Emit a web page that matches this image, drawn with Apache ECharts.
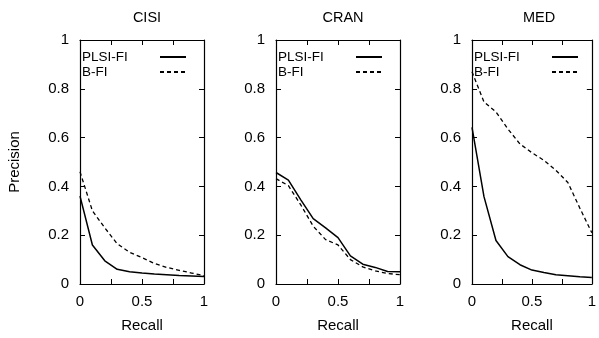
<!DOCTYPE html>
<html><head><meta charset="utf-8">
<script src="https://cdn.jsdelivr.net/npm/echarts@6/dist/echarts.min.js"></script>
<style>html,body{margin:0;padding:0;background:#fff}#c{width:599px;height:338px}</style>
</head><body><div id="c"></div>
<script>
var recall = [0, 0.1, 0.2, 0.3, 0.4, 0.5, 0.6, 0.7, 0.8, 0.9, 1.0];
var panelTitles = ['CISI', 'CRAN', 'MED'];
var seriesNames = ['PLSI-FI', 'B-FI'];
var cisiPlsi = [0.36, 0.16, 0.095, 0.06, 0.05, 0.045, 0.041, 0.038, 0.035, 0.033, 0.031];
var cisiBfi  = [0.46, 0.30, 0.23, 0.165, 0.13, 0.108, 0.084, 0.068, 0.056, 0.045, 0.034];
var cranPlsi = [0.457, 0.426, 0.345, 0.268, 0.23, 0.19, 0.115, 0.081, 0.068, 0.051, 0.05];
var cranBfi  = [0.432, 0.403, 0.324, 0.237, 0.182, 0.16, 0.10, 0.07, 0.054, 0.043, 0.038];
var medPlsi  = [0.642, 0.358, 0.178, 0.112, 0.079, 0.057, 0.047, 0.038, 0.034, 0.03, 0.027];
var medBfi   = [0.87, 0.746, 0.705, 0.635, 0.574, 0.538, 0.507, 0.466, 0.416, 0.311, 0.21];
var xTicks = [0, 0.5, 1];
var yTicks = [0, 0.2, 0.4, 0.6, 0.8, 1];

var panels = [[cisiPlsi, cisiBfi], [cranPlsi, cranBfi], [medPlsi, medBfi]];
var lefts = [80, 276, 472];
var W = 124, TOP = 40, H = 247;
var font = 'Liberation Sans, Arial, Helvetica, sans-serif';

function pairs(ys){ return recall.map(function(x,i){ return [x, ys[i]]; }); }

var grid = [], xAxis = [], yAxis = [], series = [], title = [], legend = [];
panels.forEach(function(p, g){
  grid.push({left: lefts[g], top: TOP, width: W, height: H, containLabel: false});
  title.push({text: panelTitles[g], left: lefts[g] + W/2, top: 5, textAlign: 'center',
    textStyle: {fontFamily: font, fontSize: 14.5, fontWeight: 'normal', color: '#000'}});
  var axLine = {show: true, onZero: false, lineStyle: {color: '#000', width: 1.2}};
  var tick = {show: true, inside: true, length: 5, lineStyle: {color: '#000', width: 1}};
  xAxis.push({type: 'value', gridIndex: g, min: 0, max: 1, interval: 0.25, position: 'bottom',
    axisLine: axLine, axisTick: tick, splitLine: {show: false},
    name: 'Recall', nameLocation: 'middle', nameGap: 34,
    nameTextStyle: {fontFamily: font, fontSize: 15, color: '#000'},
    axisLabel: {margin: 10, fontFamily: font, fontSize: 15, color: '#000',
      formatter: function(v){ return xTicks.indexOf(v) >= 0 ? String(v) : ''; }}});
  xAxis.push({type: 'value', gridIndex: g, min: 0, max: 1, interval: 0.25, position: 'top',
    axisLine: axLine, axisTick: tick, splitLine: {show: false}, axisLabel: {show: false}});
  yAxis.push({type: 'value', gridIndex: g, min: 0, max: 1, interval: 0.2, position: 'left',
    axisLine: axLine, axisTick: tick, splitLine: {show: false},
    name: g === 0 ? 'Precision' : '', nameLocation: 'middle', nameGap: 58, nameRotate: 90,
    nameTextStyle: {fontFamily: font, fontSize: 15, color: '#000'},
    axisLabel: {margin: 11, fontFamily: font, fontSize: 15, color: '#000',
      formatter: function(v){ var r = Math.round(v*10)/10; return yTicks.indexOf(r) >= 0 ? String(r) : ''; }}});
  yAxis.push({type: 'value', gridIndex: g, min: 0, max: 1, interval: 0.2, position: 'right',
    axisLine: axLine, axisTick: tick, splitLine: {show: false}, axisLabel: {show: false}});
  p.forEach(function(ys, k){
    series.push({type: 'line', name: seriesNames[k], xAxisIndex: 2*g, yAxisIndex: 2*g,
      data: pairs(ys), symbol: 'none', showSymbol: false, silent: true, animation: false,
      lineStyle: {color: '#000', width: k === 0 ? 1.5 : 1.3, type: k === 0 ? 'solid' : [4, 3]}});
  });
  legend.push({left: lefts[g] + 2, top: TOP + 10, orient: 'vertical', align: 'right',
    itemWidth: 26, itemHeight: 14, itemGap: 1, padding: 0, selectedMode: false,
    itemStyle: {opacity: 0},
    data: seriesNames.map(function(n){ return {name: n}; }),
    textStyle: {fontFamily: font, fontSize: 13.5, color: '#000',
      rich: {a: {width: 73, align: 'left', fontFamily: font, fontSize: 13.5, color: '#000'}}},
    formatter: function(name){ return '{a|' + name + '}'; }});
});

var chart = echarts.init(document.getElementById('c'), null, {renderer: 'canvas'});
chart.setOption({backgroundColor: '#fff', animation: false, color: ['#000', '#000'],
  title: title, grid: grid, xAxis: xAxis, yAxis: yAxis, legend: legend, series: series});
</script></body></html>
